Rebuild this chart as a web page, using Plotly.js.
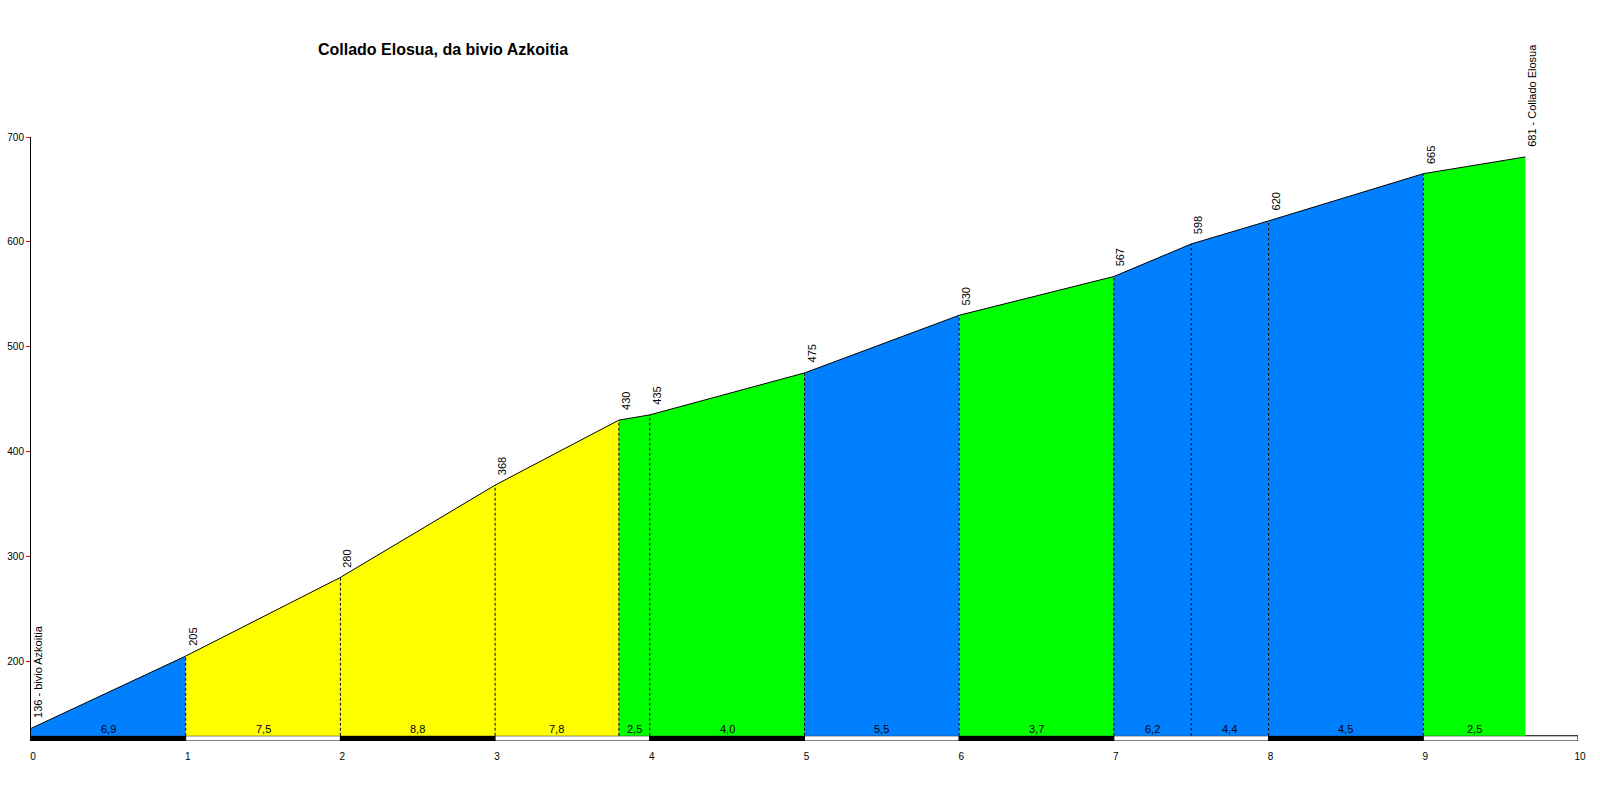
<!DOCTYPE html>
<html>
<head>
<meta charset="utf-8">
<script src="https://cdn.plot.ly/plotly-3.0.1.min.js"></script>
<style>html,body{margin:0;padding:0;background:#fff;}#chart{width:1600px;height:805px;}</style>
</head>
<body>
<div id="chart"></div>
<script>
// ---- data ----
const titleText = 'Collado Elosua, da bivio Azkoitia';
const km = [0, 1, 2, 3, 3.8, 4, 5, 6, 7, 7.5, 8, 9, 9.66];
const elev = [136, 205, 280, 368, 430, 435, 475, 530, 567, 598, 620, 665, 681];
const gradeLabels = ['6,9', '7,5', '8,8', '7,8', '2,5', '4,0', '5,5', '3,7', '6,2', '4,4', '4,5', '2,5'];
const segColors = ['#0080FF', '#FFFF00', '#FFFF00', '#FFFF00', '#00FF00', '#00FF00', '#0080FF', '#00FF00', '#0080FF', '#0080FF', '#0080FF', '#00FF00'];
const startName = 'bivio Azkoitia';
const endName = 'Collado Elosua';
const xTickVals = [0, 1, 2, 3, 4, 5, 6, 7, 8, 9, 10];
const yTickVals = [200, 300, 400, 500, 600, 700];
const kmBarColors = ['#000000', '#FFFFFF', '#000000', '#FFFFFF', '#000000', '#FFFFFF', '#000000', '#FFFFFF', '#000000', '#FFFFFF'];

// ---- layout constants ----
const yMin = 124, yMax = 700, base = 129;
const FONT = 'Liberation Sans, Arial, sans-serif';

const traces = [];
// coloured segments
for (let i = 0; i < km.length - 1; i++) {
  traces.push({
    type: 'scatter', mode: 'lines',
    x: [km[i], km[i], km[i + 1], km[i + 1], km[i]],
    y: [base, elev[i], elev[i + 1], base, base],
    fill: 'toself', fillcolor: segColors[i],
    line: {width: 0, color: segColors[i]},
    hoverinfo: 'skip', showlegend: false
  });
}
// dashed verticals
const dx = [], dy = [];
for (let i = 1; i < km.length - 1; i++) {
  dx.push(km[i], km[i], null);
  dy.push(base, elev[i], null);
}
traces.push({
  type: 'scatter', mode: 'lines', x: dx, y: dy,
  line: {color: '#000', width: 1, dash: '3px,2px'},
  hoverinfo: 'skip', showlegend: false
});
// profile outline
traces.push({
  type: 'scatter', mode: 'lines', x: km, y: elev,
  line: {color: '#000', width: 1},
  hoverinfo: 'skip', showlegend: false
});
// km bar
traces.push({
  type: 'bar',
  x: kmBarColors.map((c, i) => i + 0.5),
  y: kmBarColors.map(() => base - yMin),
  base: yMin, width: 1,
  marker: {color: kmBarColors, line: {color: '#000', width: 1}},
  hoverinfo: 'skip', showlegend: false
});

const annotations = [];
// elevation labels
for (let i = 0; i < km.length; i++) {
  let text = String(elev[i]);
  if (i === 0) text = elev[i] + ' - ' + startName;
  if (i === km.length - 1) text = elev[i] + ' - ' + endName;
  annotations.push({
    x: km[i], y: elev[i], xref: 'x', yref: 'y',
    text: text, showarrow: false, textangle: -90,
    xanchor: 'center', yanchor: 'bottom',
    xshift: 7, yshift: 8,
    font: {family: FONT, size: 11, color: '#000'}
  });
}
// gradient labels
for (let i = 0; i < gradeLabels.length; i++) {
  annotations.push({
    x: (km[i] + km[i + 1]) / 2, y: base, xref: 'x', yref: 'y',
    text: gradeLabels[i], showarrow: false,
    xanchor: 'center', yanchor: 'bottom', yshift: -1,
    font: {family: FONT, size: 11, color: '#000'}
  });
}

const layout = {
  width: 1600, height: 805,
  paper_bgcolor: '#fff', plot_bgcolor: '#fff',
  margin: {l: 31, r: 22, t: 137, b: 64, pad: 0},
  title: {
    text: '<b>' + titleText + '</b>',
    x: 443 / 1600, xref: 'container', xanchor: 'center',
    y: 1 - 49 / 805, yref: 'container', yanchor: 'middle',
    font: {family: FONT, size: 16, color: '#000'}
  },
  xaxis: {
    range: [0, 10], tickvals: xTickVals, ticktext: xTickVals.map(String),
    showgrid: false, zeroline: false, showline: false, ticks: '',
    ticklabelstandoff: 8, ticklabelshift: 2,
    tickfont: {family: FONT, size: 10, color: '#000'},
    fixedrange: true
  },
  yaxis: {
    range: [yMin, yMax], tickvals: yTickVals,
    showgrid: false, zeroline: false, showline: true, linecolor: '#000', linewidth: 1,
    ticks: 'outside', ticklen: 4, tickcolor: '#FF0000', tickwidth: 1,
    tickfont: {family: FONT, size: 10, color: '#000'},
    fixedrange: true
  },
  annotations: annotations,
  showlegend: false
};

Plotly.newPlot('chart', traces, layout, {displayModeBar: false, staticPlot: true});
</script>
</body>
</html>
